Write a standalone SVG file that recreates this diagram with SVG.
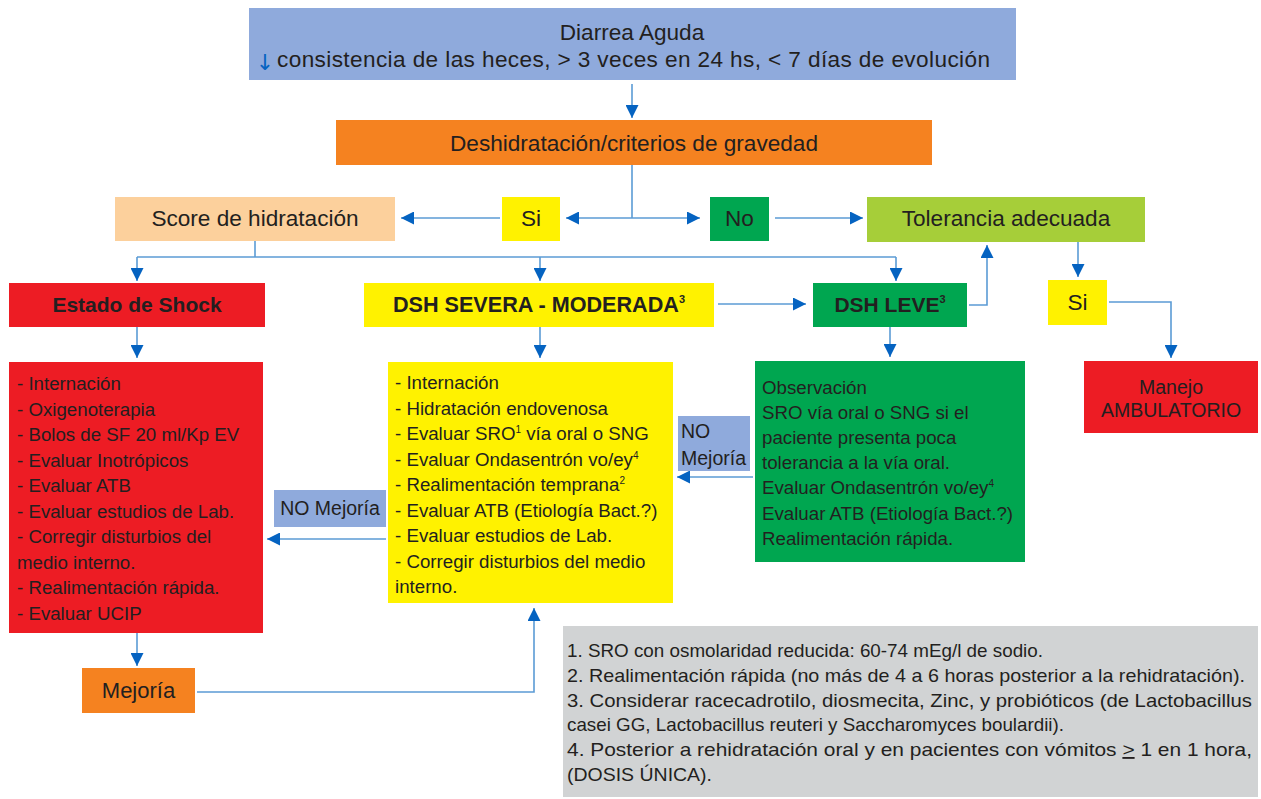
<svg xmlns="http://www.w3.org/2000/svg" width="1261" height="799" viewBox="0 0 1261 799">
<style>
text{font-family:"Liberation Sans",Arial,sans-serif;fill:#231F20}
.h{font-size:22.6px}
.hc{font-size:22.6px;text-anchor:middle}
.b{font-size:21px;font-weight:bold;text-anchor:middle}
.l{font-size:18.7px}
.m{font-size:19.5px}
.f{font-size:18.5px}
.c{stroke:#5B9BD5;stroke-width:1.6;fill:none;marker-end:url(#ah)}
.c2{stroke:#5B9BD5;stroke-width:1.6;fill:none}
</style>
<defs>
<marker id="ah" viewBox="0 0 13 13" refX="13" refY="6.5" markerWidth="13" markerHeight="13" markerUnits="userSpaceOnUse" orient="auto">
<path d="M0,0 L13,6.5 L0,13 z" fill="#0563C1"/>
</marker>
</defs>
<rect width="1261" height="799" fill="#FFFFFF"/>
<g id="connectors">
<line class="c" x1="632" y1="84" x2="632" y2="118"/>
<polyline class="c2" points="632,165 632,218"/>
<line class="c" x1="632" y1="218" x2="566" y2="218"/>
<line class="c" x1="632" y1="218" x2="700" y2="218"/>
<line class="c" x1="500" y1="218" x2="401" y2="218"/>
<line class="c" x1="775" y1="218" x2="863" y2="218"/>
<polyline class="c2" points="255,241 255,257"/>
<polyline class="c2" points="137,257 896,257"/>
<line class="c" x1="137" y1="257" x2="137" y2="281"/>
<line class="c" x1="540" y1="257" x2="540" y2="281"/>
<line class="c" x1="896" y1="257" x2="896" y2="281"/>
<line class="c" x1="718" y1="304" x2="806" y2="304"/>
<polyline class="c" points="969,305 987,305 987,245"/>
<line class="c" x1="1078" y1="242" x2="1078" y2="277"/>
<polyline class="c" points="1109,302 1171,302 1171,358"/>
<line class="c" x1="137" y1="327" x2="137" y2="358"/>
<line class="c" x1="540" y1="327" x2="540" y2="358"/>
<line class="c" x1="890" y1="327" x2="890" y2="357"/>
<line class="c" x1="753" y1="477" x2="677" y2="477"/>
<line class="c" x1="386" y1="539" x2="267" y2="539"/>
<line class="c" x1="137" y1="633" x2="137" y2="666"/>
<polyline class="c" points="197,692 534,692 534,608"/>
</g>
<g id="n-diarrea">
<rect x="249" y="8" width="767" height="72" fill="#8FAADC"/>
<text class="hc" x="632" y="40">Diarrea Aguda</text>
<text x="265" y="70" text-anchor="middle" style="font-size:22px;font-family:'DejaVu Sans',sans-serif;fill:#0563C1">↓</text>
<text class="h" x="277" y="67" textLength="713" lengthAdjust="spacing">consistencia de las heces, &gt; 3 veces en 24 hs, &lt; 7 días de evolución</text>
</g>
<g id="n-deshidratacion">
<rect x="336" y="120" width="596" height="45" fill="#F58220"/>
<text class="hc" x="634" y="151">Deshidratación/criterios de gravedad</text>
</g>
<g id="n-score">
<rect x="115" y="197" width="280" height="44" fill="#FCD09C"/>
<text class="hc" x="255" y="226">Score de hidratación</text>
</g>
<g id="n-si1">
<rect x="502" y="197" width="58" height="44" fill="#FFF200"/>
<text class="hc" x="531" y="226">Si</text>
</g>
<g id="n-no">
<rect x="710" y="197" width="59" height="44" fill="#00A650"/>
<text class="hc" x="739.5" y="226">No</text>
</g>
<g id="n-tolerancia">
<rect x="867" y="197" width="278" height="45" fill="#A6CE39"/>
<text class="hc" x="1006" y="226">Tolerancia adecuada</text>
</g>
<g id="n-shock">
<rect x="9" y="283" width="256" height="44" fill="#ED1C24"/>
<text class="b" x="137" y="312">Estado de Shock</text>
</g>
<g id="n-severa">
<rect x="364" y="283" width="350" height="44" fill="#FFF200"/>
<text class="b" x="539" y="312" style="font-size:21.6px">DSH SEVERA - MODERADA<tspan font-size="11" dy="-9">3</tspan></text>
</g>
<g id="n-leve">
<rect x="813" y="283" width="154" height="44" fill="#00A650"/>
<text class="b" x="890" y="312">DSH LEVE<tspan font-size="11" dy="-9">3</tspan></text>
</g>
<g id="n-si2">
<rect x="1048" y="280" width="59" height="45" fill="#FFF200"/>
<text class="hc" x="1077.5" y="310">Si</text>
</g>
<g id="n-manejo">
<rect x="1084" y="361" width="174" height="72" fill="#ED1C24"/>
<text class="m" x="1171" y="394" text-anchor="middle">Manejo</text>
<text class="m" x="1171" y="417" text-anchor="middle">AMBULATORIO</text>
</g>
<g id="n-shock-list">
<rect x="9" y="362" width="254" height="271" fill="#ED1C24"/>
<text class="l" x="17" y="390">- Internación</text>
<text class="l" x="17" y="415.5">- Oxigenoterapia</text>
<text class="l" x="17" y="441">- Bolos de SF 20 ml/Kp EV</text>
<text class="l" x="17" y="466.5">- Evaluar Inotrópicos</text>
<text class="l" x="17" y="492">- Evaluar ATB</text>
<text class="l" x="17" y="517.5">- Evaluar estudios de Lab.</text>
<text class="l" x="17" y="543">- Corregir disturbios del</text>
<text class="l" x="17" y="568.5">medio interno.</text>
<text class="l" x="17" y="594">- Realimentación rápida.</text>
<text class="l" x="17" y="619.5">- Evaluar UCIP</text>
</g>
<g id="n-severa-list">
<rect x="388" y="362" width="285" height="241" fill="#FFF200"/>
<text class="l" x="395" y="389">- Internación</text>
<text class="l" x="395" y="414.5">- Hidratación endovenosa</text>
<text class="l" x="395" y="440">- Evaluar SRO<tspan font-size="10" dy="-7">1</tspan><tspan dy="7"> vía oral o SNG</tspan></text>
<text class="l" x="395" y="465.5">- Evaluar Ondasentrón vo/ey<tspan font-size="10" dy="-7">4</tspan></text>
<text class="l" x="395" y="491">- Realimentación temprana<tspan font-size="10" dy="-7">2</tspan></text>
<text class="l" x="395" y="516.5">- Evaluar ATB (Etiología Bact.?)</text>
<text class="l" x="395" y="542">- Evaluar estudios de Lab.</text>
<text class="l" x="395" y="567.5">- Corregir disturbios del medio</text>
<text class="l" x="395" y="593">interno.</text>
</g>
<g id="n-leve-list">
<rect x="755" y="361" width="270" height="201" fill="#00A650"/>
<text class="l" x="762" y="393.5">Observación</text>
<text class="l" x="762" y="418.7">SRO vía oral o SNG si el</text>
<text class="l" x="762" y="443.9">paciente presenta poca</text>
<text class="l" x="762" y="469.1">tolerancia a la vía oral.</text>
<text class="l" x="762" y="494.3">Evaluar Ondasentrón vo/ey<tspan font-size="10" dy="-7">4</tspan></text>
<text class="l" x="762" y="519.5">Evaluar ATB (Etiología Bact.?)</text>
<text class="l" x="762" y="544.7">Realimentación rápida.</text>
</g>
<g id="n-nomejoria-right">
<rect x="678" y="416" width="72" height="55" fill="#8FAADC"/>
<text class="m" x="681" y="438">NO</text>
<text class="m" x="681" y="465">Mejoría</text>
</g>
<g id="n-nomejoria-left">
<rect x="274" y="490" width="112" height="37" fill="#8FAADC"/>
<text class="m" x="330" y="515" text-anchor="middle">NO Mejoría</text>
</g>
<g id="n-mejoria">
<rect x="82" y="668" width="113" height="45" fill="#F58220"/>
<text class="hc" x="138.5" y="698" style="font-size:22px">Mejoría</text>
</g>
<g id="n-notas">
<rect x="563" y="626" width="695" height="171" fill="#D1D3D4"/>
<text class="f" x="567" y="657" textLength="476" lengthAdjust="spacingAndGlyphs">1. SRO con osmolaridad reducida: 60-74 mEg/l de sodio.</text>
<text class="f" x="567" y="682" textLength="678" lengthAdjust="spacingAndGlyphs">2. Realimentación rápida (no más de 4 a 6 horas posterior a la rehidratación).</text>
<text class="f" x="567" y="707" textLength="685" lengthAdjust="spacingAndGlyphs">3. Considerar racecadrotilo, diosmecita, Zinc, y probióticos (de Lactobacillus</text>
<text class="f" x="567" y="731" textLength="497" lengthAdjust="spacingAndGlyphs">casei GG, Lactobacillus reuteri y Saccharomyces boulardii).</text>
<text class="f" x="567" y="756" textLength="685" lengthAdjust="spacingAndGlyphs">4. Posterior a rehidratación oral y en pacientes con vómitos <tspan text-decoration="underline">&gt;</tspan> 1 en 1 hora,</text>
<text class="f" x="567" y="781" textLength="145" lengthAdjust="spacingAndGlyphs">(DOSIS ÚNICA).</text>
</g>
</svg>
